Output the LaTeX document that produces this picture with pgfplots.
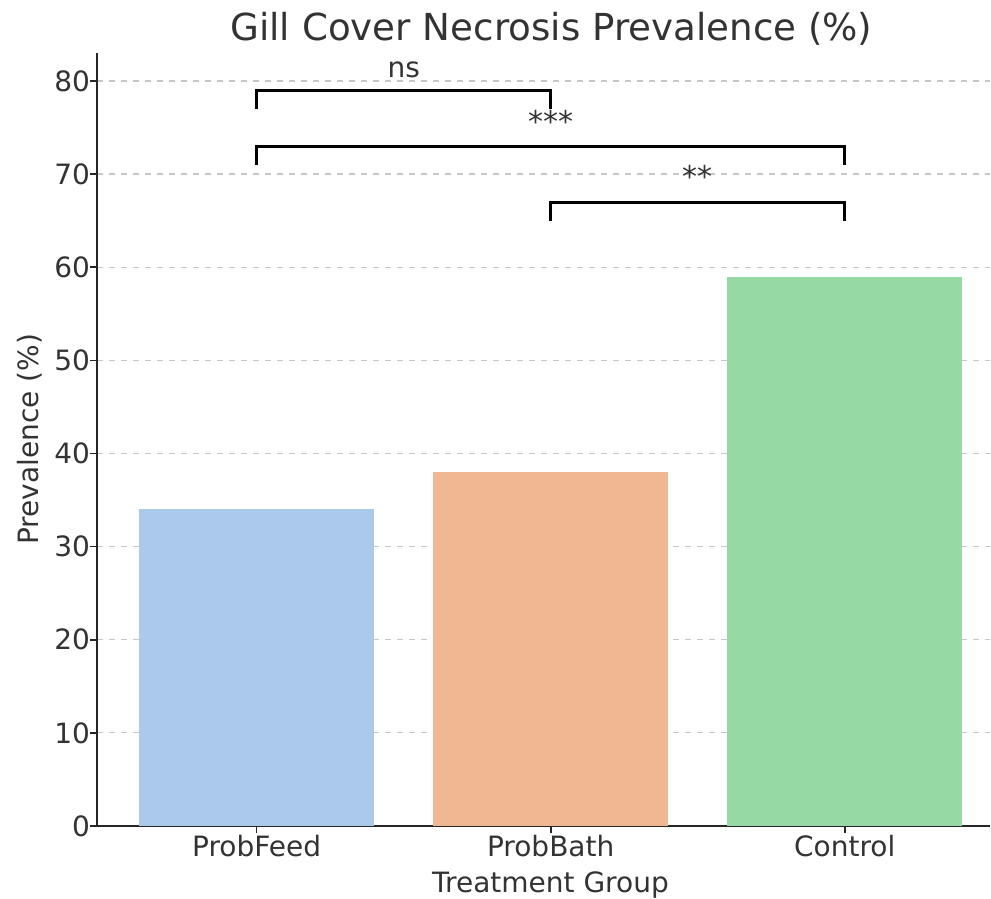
\documentclass[border=0pt]{standalone}
\usepackage{pgfplots}
\pgfplotsset{compat=1.18}
\usepackage{fontspec}
\setmainfont{DejaVu Sans}
\definecolor{cblue}{HTML}{ABC9EB}
\definecolor{corange}{HTML}{EFB792}
\definecolor{cgreen}{HTML}{97D9A5}
\definecolor{ctext}{HTML}{333333}
\begin{document}
\begin{tikzpicture}
\useasboundingbox (-48.5pt,-36.5pt) rectangle (447pt,413pt);
\begin{axis}[
  at={(0,0)}, anchor=south west,
  width=446.5pt, height=386.5pt, scale only axis,
  xmin=-0.543, xmax=2.494, ymin=0, ymax=83,
  xtick={0,1,2}, xticklabels={ProbFeed,ProbBath,Control},
  ytick={0,10,...,80},
  axis x line*=bottom, axis y line*=left,
  axis line style={-, color=black!85, line width=1pt},
  tick style={color=black!85, line width=0.8pt},
  tick align=outside, major tick length=3.5pt,
  ymajorgrids, grid style={dashed, color=black!22, line width=0.6pt},
  tick label style={font=\fontsize{14}{14}\selectfont, text=ctext},
  /pgf/number format/assume math mode=true,
  xticklabel style={yshift=2.5pt},
  yticklabel style={xshift=3.5pt},
  xlabel={Treatment Group}, ylabel={Prevalence (\%)},
  label style={font=\fontsize{14}{14}\selectfont, text=ctext},
  xlabel style={at={(axis description cs:0.5,0)}, anchor=center, yshift=-29.5pt, xshift=3.5pt},
  ylabel style={at={(axis description cs:0,0.5)}, anchor=center, rotate=0, yshift=33.5pt},
  title={Gill Cover Necrosis Prevalence (\%)},
  title style={font=\fontsize{18.6}{18.6}\selectfont, text=ctext, at={(axis description cs:0.5,1)}, anchor=center, yshift=6pt, xshift=4pt},
  clip=false,
]
\addplot[ybar, bar width=0.8, fill=cblue, draw=none] coordinates {(0,34)};
\addplot[ybar, bar width=0.8, fill=corange, draw=none] coordinates {(1,38)};
\addplot[ybar, bar width=0.8, fill=cgreen, draw=none] coordinates {(2,59)};
\addplot[black, line width=1.5pt] coordinates {(0,77) (0,79) (1,79) (1,77)};
\addplot[black, line width=1.5pt] coordinates {(0,71) (0,73) (2,73) (2,71)};
\addplot[black, line width=1.5pt] coordinates {(1,65) (1,67) (2,67) (2,65)};
\node[anchor=base, text=ctext, font=\fontsize{14}{14}\selectfont] at (axis cs:0.5,80.4) {ns};
\node[anchor=base, text=ctext, font=\fontsize{15}{15}\selectfont] at (axis cs:1,74.5) {***};
\node[anchor=base, text=ctext, font=\fontsize{15}{15}\selectfont] at (axis cs:1.5,68.6) {**};
\end{axis}
\end{tikzpicture}
\end{document}
